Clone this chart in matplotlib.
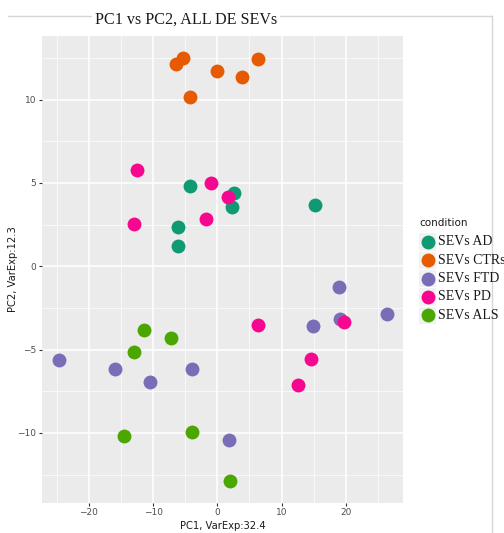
import matplotlib.pyplot as plt
from matplotlib.lines import Line2D
from matplotlib.patches import Rectangle

# PCA scores per condition
conditions = ['SEVs AD', 'SEVs CTRs', 'SEVs FTD', 'SEVs PD', 'SEVs ALS']
colors = ['#109A74', '#E65A02', '#7A6DB7', '#F5088F', '#4CA600']

ad_x = [-4.2, 2.65, 2.24, -6.12, -6.12, 15.2]
ad_y = [4.8, 4.42, 3.58, 2.36, 1.24, 3.7]

ctr_x = [-6.4, -5.3, 0.0, 3.8, 6.3, -4.2]
ctr_y = [12.12, 12.48, 11.74, 11.34, 12.42, 10.14]

ftd_x = [18.9, 19.07, 14.86, 26.4, -24.66, -15.93, -10.43, -3.94, 1.82]
ftd_y = [-1.26, -3.18, -3.58, -2.84, -5.6, -6.14, -6.96, -6.18, -10.44]

pd_x = [-12.5, -13.0, -0.93, -1.8, 1.67, 6.39, 19.7, 14.6, 12.57]
pd_y = [5.8, 2.56, 4.98, 2.82, 4.18, -3.54, -3.36, -5.54, -7.1]

als_x = [-11.4, -7.16, -12.97, -14.6, -3.89, 1.98]
als_y = [-3.84, -4.32, -5.12, -10.16, -9.96, -12.9]

xs = [ad_x, ctr_x, ftd_x, pd_x, als_x]
ys = [ad_y, ctr_y, ftd_y, pd_y, als_y]

W, H = 504, 533
fig = plt.figure(figsize=(W / 100, H / 100), dpi=100)
ax = fig.add_axes([41.7 / W, 1 - 502.7 / H, (403 - 41.7) / W, (502.7 - 36) / H])
ax.set_facecolor('#EBEBEB')

for i in range(len(conditions)):
    ax.scatter(xs[i], ys[i], s=100, color=colors[i], linewidths=0, zorder=3)

ax.set_xlim(-27.35, 28.9)
ax.set_ylim(-14.19, 13.82)
ax.set_xticks([-20, -10, 0, 10, 20])
ax.set_yticks([-10, -5, 0, 5, 10])
ax.set_xticks([-25, -15, -5, 5, 15, 25], minor=True)
ax.set_yticks([-12.5, -7.5, -2.5, 2.5, 7.5, 12.5], minor=True)
ax.grid(which='major', color='white', linewidth=1.1, zorder=0)
ax.grid(which='minor', color='white', linewidth=0.5, zorder=0)
ax.set_axisbelow(True)
for sp in ax.spines.values():
    sp.set_visible(False)
ax.tick_params(which='major', length=2.5, width=0.8, color='#333333',
               labelsize=6.5, labelcolor='#4D4D4D', pad=1.5)
ax.tick_params(which='minor', length=0)
ax.set_xlabel('PC1, VarExp:32.4', fontsize=7.2, color='#1A1A1A', labelpad=3)
ax.set_ylabel('PC2, VarExp:12.3', fontsize=7.2, color='#1A1A1A')
ax.yaxis.set_label_coords(-0.066, 0.5)

# outer frame lines
fig.add_artist(Line2D([8 / W, 492 / W], [1 - 16 / H, 1 - 16 / H],
                      transform=fig.transFigure, color='#D6D6D6', linewidth=1))
fig.add_artist(Line2D([492 / W, 492 / W], [1 - 16 / H, 0],
                      transform=fig.transFigure, color='#D6D6D6', linewidth=1))

fig.text(186 / W, 1 - 20 / H, 'PC1 vs PC2, ALL DE SEVs', family='Liberation Serif',
         fontsize=11.6, ha='center', va='center', color='#1A1A1A',
         bbox=dict(facecolor='white', edgecolor='none', pad=2))

# legend
fig.text(419 / W, 1 - 223 / H, 'condition', fontsize=7.5, color='#1A1A1A',
         ha='left', va='center')
for i, lab in enumerate(conditions):
    yc = 242 + i * 18.3
    fig.add_artist(Rectangle((419 / W, 1 - (yc + 8.6) / H), 17 / W, 17.2 / H,
                             transform=fig.transFigure, facecolor='#F2F2F2',
                             edgecolor='none'))
    fig.add_artist(Line2D([427.5 / W], [1 - yc / H], transform=fig.transFigure,
                          marker='o', markersize=10, color=colors[i],
                          markeredgewidth=0, linestyle='none'))
    fig.text(438 / W, 1 - yc / H, lab, family='Liberation Serif', fontsize=10,
             color='#1A1A1A', ha='left', va='center')

fig.savefig('out.png', dpi=100)
